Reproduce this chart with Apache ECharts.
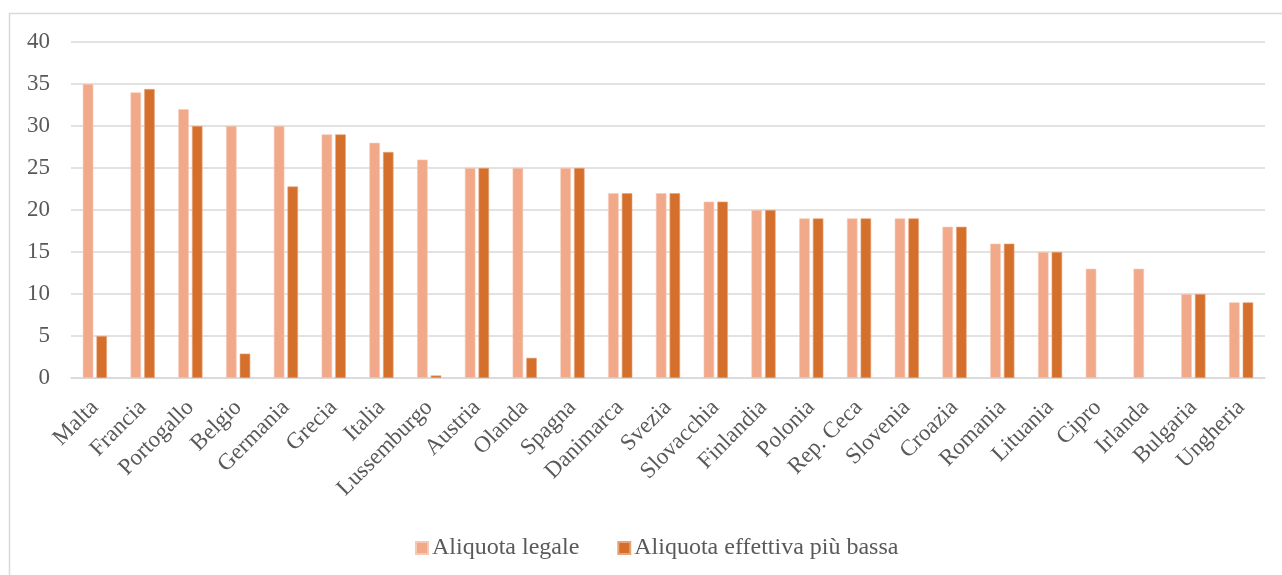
<!DOCTYPE html>
<html>
<head>
<meta charset="utf-8">
<style>
  html, body { margin: 0; padding: 0; background: #ffffff; }
  #chart { width: 1282px; height: 575px; }
</style>
<script src="https://cdn.jsdelivr.net/npm/echarts@6/dist/echarts.min.js"></script>
</head>
<body>
<div id="chart"></div>
<script>
// Paesi, in ordine di aliquota legale decrescente
const countries = [
  'Malta', 'Francia', 'Portogallo', 'Belgio', 'Germania', 'Grecia', 'Italia',
  'Lussemburgo', 'Austria', 'Olanda', 'Spagna', 'Danimarca', 'Svezia',
  'Slovacchia', 'Finlandia', 'Polonia', 'Rep. Ceca', 'Slovenia', 'Croazia',
  'Romania', 'Lituania', 'Cipro', 'Irlanda', 'Bulgaria', 'Ungheria'
];

// Aliquota legale (%)
const legalRate = [
  35, 34, 32, 30, 30, 29, 28, 26, 25, 25, 25, 22, 22,
  21, 20, 19, 19, 19, 18, 16, 15, 13, 13, 10, 9
];

// Aliquota effettiva più bassa (%)
const lowestEffectiveRate = [
  5, 34.4, 30, 2.9, 22.8, 29, 26.9, 0.3, 25, 2.4, 25, 22, 22,
  21, 20, 19, 19, 19, 18, 16, 15, null, null, 10, 9
];

// Tacche dell'asse verticale
const yTicks = { min: 0, max: 40, step: 5 };

const seriesNames = ['Aliquota legale', 'Aliquota effettiva più bassa'];

const font = 'Liberation Serif, Times New Roman, serif';
const textColor = '#595959';

const chart = echarts.init(document.getElementById('chart'), null, { renderer: 'canvas' });

chart.setOption({
  animation: false,
  backgroundColor: '#ffffff',
  graphic: [{
    type: 'rect',
    shape: { x: 9.5, y: 13.5, width: 1300, height: 600 },
    style: { fill: 'none', stroke: '#d9d9d9', lineWidth: 1.5 },
    silent: true,
    z: -10
  }],
  grid: { left: 71, right: 17, top: 42, bottom: 197, containLabel: false },
  legend: {
    top: 531,
    left: 410,
    itemWidth: 12,
    itemHeight: 12,
    itemGap: 38,
    icon: 'rect',
    textStyle: { fontFamily: font, fontSize: 24, color: textColor, padding: [0, 0, 0, -1] },
    data: seriesNames
  },
  xAxis: {
    type: 'category',
    data: countries,
    axisLine: { show: true, lineStyle: { color: '#d9d9d9', width: 1.5 } },
    axisTick: { show: false },
    axisLabel: {
      interval: 0,
      rotate: 45,
      margin: 26,
      fontFamily: font,
      fontSize: 23,
      color: textColor
    }
  },
  yAxis: {
    type: 'value',
    min: yTicks.min,
    max: yTicks.max,
    interval: yTicks.step,
    axisLine: { show: false },
    axisTick: { show: false },
    splitLine: { lineStyle: { color: '#d9d9d9', width: 1.5 } },
    axisLabel: {
      margin: 21,
      fontFamily: font,
      fontSize: 23,
      color: textColor
    }
  },
  series: [
    {
      name: seriesNames[0],
      type: 'bar',
      data: legalRate,
      barWidth: 10.5,
      barGap: '30%',
      itemStyle: { color: '#f1a98a', borderColor: '#f7c9b5', borderWidth: 0.6 }
    },
    {
      name: seriesNames[1],
      type: 'bar',
      data: lowestEffectiveRate,
      barWidth: 10.5,
      itemStyle: { color: '#d4702c', borderColor: '#e8a57a', borderWidth: 0.6 }
    }
  ]
});
</script>
</body>
</html>
